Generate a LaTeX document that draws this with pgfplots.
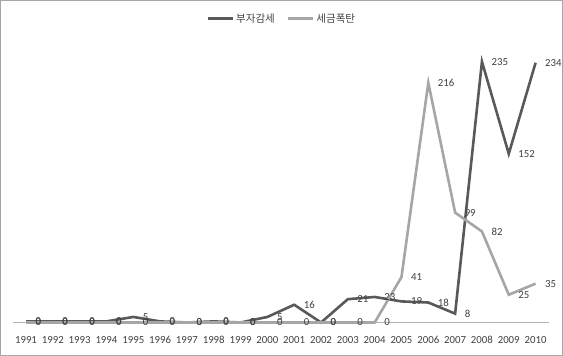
\documentclass[border=0pt]{standalone}
\usepackage{fontspec}
\setmainfont{Carlito}
\newfontfamily\kr{Noto Sans CJK KR}
\usepackage{pgfplots}
\pgfplotsset{compat=1.18}
\usepackage{pgfplotstable}
\definecolor{darkser}{HTML}{595959}
\definecolor{lightser}{HTML}{A6A6A6}
\definecolor{txt}{HTML}{404040}

\pgfplotstableread{
year val lab
1991 1 0
1992 1 0
1993 1 0
1994 1 0
1995 5 5
1996 1 0
1997 0 0
1998 1 0
1999 0 0
2000 5 5
2001 16 16
2002 0 0
2003 21 21
2004 23 23
2005 19 19
2006 18 18
2007 8 8
2008 235 235
2009 152 152
2010 234 234
}\darkdata

\pgfplotstableread{
year val lab
1991 0 0
1992 0 0
1993 0 0
1994 0 0
1995 0 0
1996 0 0
1997 0 0
1998 0 0
1999 0 0
2000 0 0
2001 0 0
2002 0 0
2003 0 0
2004 0 0
2005 41 41
2006 216 216
2007 99 99
2008 82 82
2009 25 25
2010 35 35
}\lightdata

\begin{document}
\begin{tikzpicture}
\path[use as bounding box] (0pt,0pt) rectangle (563pt,356pt);
\draw[gray!70, line width=0.8pt] (0.5pt,0.5pt) rectangle (562.5pt,355.5pt);
\begin{axis}[
  at={(12.6pt,33.5pt)}, anchor=south west,
  scale only axis, width=536.4pt, height=277.5pt,
  xmin=1990.5, xmax=2010.5, ymin=0, ymax=250,
  axis x line=bottom, axis y line=none,
  x axis line style={draw=gray!60, line width=0.8pt, -},
  xtick={1991,...,2010}, major tick length=0pt,
  xticklabel={\pgfmathprintnumber[assume math mode=true,1000 sep={}]{\tick}},
  x tick label style={font=\fontsize{10.8}{12}\selectfont, text=txt, yshift=-10pt},
  clip=false,
  point meta=explicit,
  nodes near coords={\pgfmathprintnumber[assume math mode=true]{\pgfplotspointmeta}},
  every node near coord/.append style={anchor=west, xshift=5pt, font=\fontsize{10.8}{12}\selectfont, text=txt},
  legend columns=2,
  legend style={draw=none, fill=none, at={(0.502,1.095)}, anchor=center,
    font=\kr\fontsize{10.5}{12}\selectfont, text=txt,
    /tikz/every even column/.append style={column sep=10pt}},
  legend image code/.code={\draw[#1] (0pt,0pt) -- (25pt,0pt);},
]
\addplot[darkser, line width=2.6pt, mark=none] table[x=year,y=val,meta=lab]{\darkdata};
\addlegendentry{부자감세}
\addplot[lightser, line width=2.6pt, mark=none] table[x=year,y=val,meta=lab]{\lightdata};
\addlegendentry{세금폭탄}
\end{axis}
\end{tikzpicture}
\end{document}
